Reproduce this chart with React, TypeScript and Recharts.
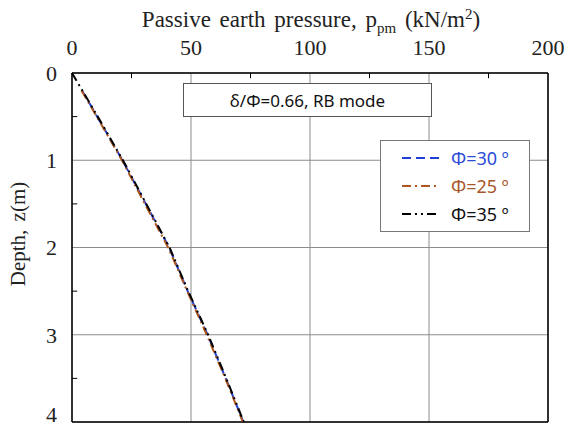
import React from 'react';
import { ScatterChart, Scatter, XAxis, YAxis, CartesianGrid, ReferenceLine } from 'recharts';

// depth (m) and passive earth pressure (kN/m2)
const depth30 = [0.2, 0.5, 1, 1.5, 2, 2.5, 3, 3.5, 4];
const press30 = [4.2, 10.6, 21.2, 31.0, 40.8, 48.6, 57.0, 64.6, 72.0];
const depth25 = [0.2, 0.5, 1, 1.5, 2, 2.5, 3, 3.5, 4];
const press25 = [4.0, 10.4, 21.0, 30.6, 40.4, 48.4, 56.6, 64.4, 71.8];
const depth35 = [0, 0.5, 1, 1.5, 2, 2.5, 3, 3.5, 4];
const press35 = [0, 10.8, 21.4, 31.2, 41.0, 48.8, 57.2, 64.8, 72.2];

const xTicks = [0, 50, 100, 150, 200];
const yTicks = [0, 1, 2, 3, 4];
const xMinor = [25, 75, 125, 175];
const yMinor = [0.5, 1.5, 2.5, 3.5];

const serif = '"Liberation Serif", "DejaVu Serif", serif';
const sans = '"Noto Sans", "Open Sans", sans-serif';

const toPoints = (z: number[], p: number[]) => z.map((d, i) => ({ z: d, p: p[i] }));

const series = [
  { name: 'Φ=30 º', data: toPoints(depth30, press30), color: '#1f3fd6', text: '#2a4bd7', dash: '9 5' },
  { name: 'Φ=25 º', data: toPoints(depth25, press25), color: '#b0561c', text: '#a8562a', dash: '9 4 2 4' },
  { name: 'Φ=35 º', data: toPoints(depth35, press35), color: '#000000', text: '#111111', dash: '9 4 2 4 2 4' },
];

const noShape = () => <g />;

const Title = () => (
  <text x={311} y={27} textAnchor="middle" fontFamily={serif} fontSize={23} wordSpacing={3} fill="#222">
    Passive earth pressure, p
    <tspan fontSize={15} dy={6}>pm</tspan>
    <tspan dy={-6}> (kN/m</tspan>
    <tspan fontSize={15} dy={-8}>2</tspan>
    <tspan dy={8}>)</tspan>
  </text>
);

const DepthLabel = () => (
  <text
    x={18}
    y={234}
    transform="rotate(-90, 18, 234)"
    textAnchor="middle"
    dominantBaseline="central"
    fontFamily={serif}
    fontSize={21}
    wordSpacing={3}
    fill="#222"
  >
    Depth, z(m)
  </text>
);

export default function App() {
  return (
    <div style={{ position: 'absolute', left: 0, top: 0, width: 567, height: 427, background: '#fff' }}>
      <ScatterChart width={567} height={427} margin={{ top: 0, right: 19, bottom: 5, left: 0 }}>
        <CartesianGrid stroke="#8c8c8c" strokeWidth={1} />
        <XAxis
          type="number"
          dataKey="p"
          orientation="top"
          domain={[0, 200]}
          ticks={xTicks}
          height={73}
          axisLine={{ stroke: '#000', strokeWidth: 1.5 }}
          tickLine={false}
          tickSize={6}
          tickMargin={12}
          tick={{ fontFamily: serif, fontSize: 22, fill: '#222' }}
          label={{ content: <Title /> }}
        />
        <YAxis
          type="number"
          dataKey="z"
          reversed
          domain={[0, 4]}
          ticks={yTicks}
          width={72}
          axisLine={{ stroke: '#000', strokeWidth: 1.5 }}
          tickLine={false}
          tickSize={6}
          tickMargin={9}
          tick={{ fontFamily: serif, fontSize: 22, fill: '#222' }}
          label={{ content: <DepthLabel /> }}
        />
        {xMinor.map((v) => (
          <ReferenceLine key={'xm' + v} segment={[{ x: v, y: 0 }, { x: v, y: 0.06 }]} stroke="#000" />
        ))}
        {yMinor.map((v) => (
          <ReferenceLine key={'ym' + v} segment={[{ x: 0, y: v }, { x: 2.2, y: v }]} stroke="#000" />
        ))}
        <ReferenceLine x={200} stroke="#000" strokeWidth={1.5} />
        <ReferenceLine y={4} stroke="#000" strokeWidth={1.5} />
        {series.map((s) => (
          <Scatter
            key={s.name}
            name={s.name}
            data={s.data}
            line={{ stroke: s.color, strokeWidth: 2, strokeDasharray: s.dash }}
            lineType="joint"
            shape={noShape}
            isAnimationActive={false}
          />
        ))}
      </ScatterChart>

      <div
        style={{
          position: 'absolute',
          left: 183,
          top: 83,
          width: 249,
          height: 34,
          border: '1px solid #555',
          background: '#fff',
          fontFamily: sans,
          fontSize: 17,
          color: '#111',
          display: 'flex',
          alignItems: 'center',
          justifyContent: 'center',
          boxSizing: 'border-box',
        }}
      >
        δ/Φ=0.66, RB mode
      </div>

      <div
        style={{
          position: 'absolute',
          left: 380,
          top: 140,
          width: 150,
          height: 92,
          border: '1px solid #777',
          background: '#fff',
          boxSizing: 'border-box',
          fontFamily: sans,
          fontSize: 18,
        }}
      >
        {series.map((s, i) => (
          <div
            key={s.name}
            style={{ position: 'absolute', left: 20, top: 4 + i * 28, height: 26, display: 'flex', alignItems: 'center' }}
          >
            <svg width={40} height={6} style={{ marginRight: 10 }}>
              <line x1={1} y1={3} x2={39} y2={3} stroke={s.color} strokeWidth={2} strokeDasharray={s.dash} />
            </svg>
            <span style={{ color: s.text, whiteSpace: 'nowrap' }}>{s.name}</span>
          </div>
        ))}
      </div>
    </div>
  );
}
